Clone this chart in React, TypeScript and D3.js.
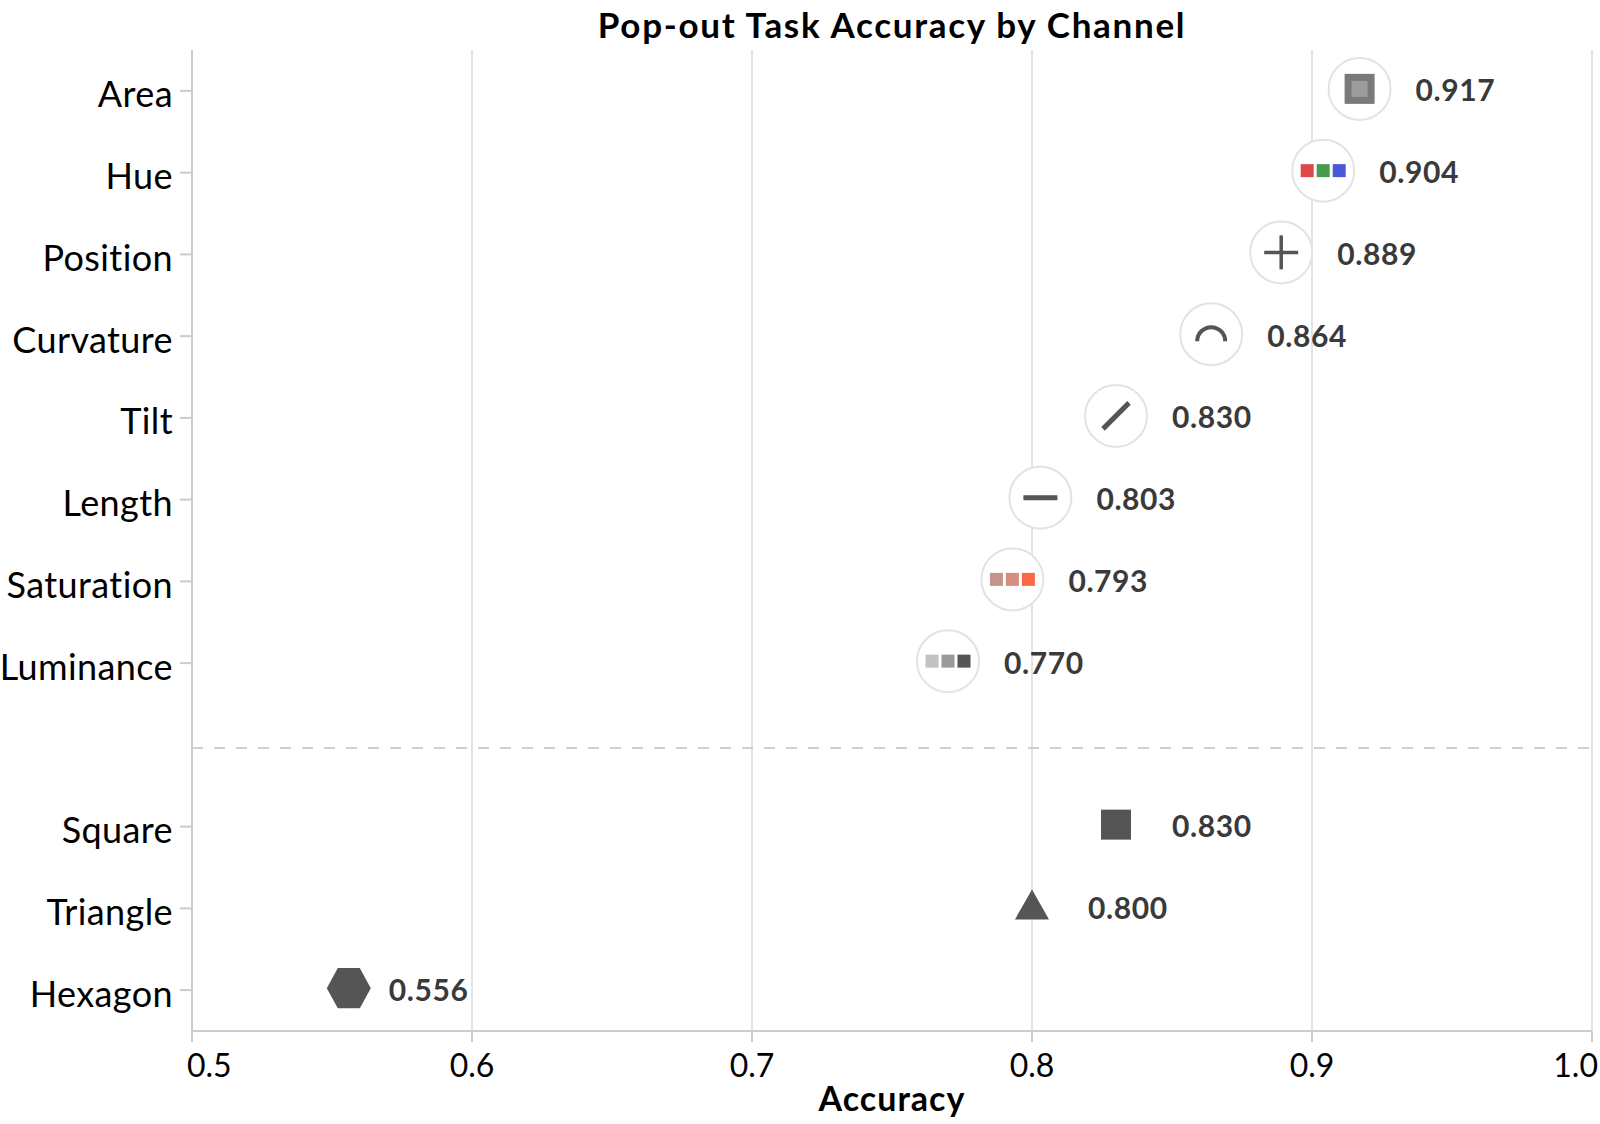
import * as d3 from "d3";

const channels = ["Area", "Hue", "Position", "Curvature", "Tilt", "Length", "Saturation", "Luminance"];
const channelAccuracy = [0.917, 0.904, 0.889, 0.864, 0.83, 0.803, 0.793, 0.77];
const shapes = ["Square", "Triangle", "Hexagon"];
const shapeAccuracy = [0.83, 0.8, 0.556];
const xTicks = [0.5, 0.6, 0.7, 0.8, 0.9, 1.0];
const hueSwatches = ["#e04848", "#4a9a4c", "#4858d8"];
const saturationSwatches = ["#c4938c", "#d68e7e", "#fb6846"];
const luminanceSwatches = ["#c2c2c2", "#9a9a9a", "#555555"];

const GAP = "__gap";
const FONT = "Lato, 'Open Sans', sans-serif";
const INK = "#555";

const width = 1600;
const height = 1124;
const margin = { top: 50, right: 8, bottom: 93, left: 192 };

const x = d3.scaleLinear().domain([0.5, 1]).range([margin.left, width - margin.right]);
const y = d3
  .scaleBand<string>()
  .domain([...channels, GAP, ...shapes])
  .range([margin.top, height - margin.bottom]);
const yc = (k: string) => (y(k) as number) + y.bandwidth() / 2;

// three little squares used by hue / saturation / luminance
const swatches = (colors: string[]) =>
  colors.map((c, i) => (
    <rect key={i} x={(i - 1) * 16 - 6.5} y={-6.5} width={13} height={13} fill={c} />
  ));

function channelGlyph(name: string) {
  switch (name) {
    case "Area":
      return (
        <g>
          <rect x={-15} y={-15} width={30} height={30} fill="#7a7a7a" />
          <rect x={-8} y={-8} width={16} height={16} fill="#9c9c9c" />
        </g>
      );
    case "Hue":
      return <g>{swatches(hueSwatches)}</g>;
    case "Position":
      return (
        <g stroke={INK} strokeWidth={3.5}>
          <line x1={-17} x2={17} y1={0} y2={0} />
          <line x1={0} x2={0} y1={-17} y2={17} />
        </g>
      );
    case "Curvature":
      return (
        <path
          d={d3.arc()({ innerRadius: 12, outerRadius: 16, startAngle: -Math.PI / 2, endAngle: Math.PI / 2 }) as string}
          transform="translate(0,7)"
          fill={INK}
        />
      );
    case "Tilt":
      return <line x1={-13} y1={13} x2={13} y2={-13} stroke={INK} strokeWidth={5} />;
    case "Length":
      return <line x1={-17} y1={0} x2={17} y2={0} stroke={INK} strokeWidth={5} />;
    case "Saturation":
      return <g>{swatches(saturationSwatches)}</g>;
    case "Luminance":
      return <g>{swatches(luminanceSwatches)}</g>;
  }
  return null;
}

function shapeGlyph(name: string) {
  if (name === "Square") return <rect x={-15} y={-15} width={30} height={30} fill={INK} />;
  if (name === "Triangle") {
    const tri = d3.line()([[0, -17], [17, 13], [-17, 13]]) + "Z";
    return <path d={tri} fill={INK} />;
  }
  const hex = d3.range(6).map((i) => {
    const a = (Math.PI / 3) * i;
    return [22 * Math.cos(a), 20 * Math.sin(a) * 1.155] as [number, number];
  });
  return <path d={d3.line()(hex) + "Z"} fill={INK} />;
}

export default function App() {
  const plotTop = margin.top;
  const plotBottom = height - margin.bottom;
  return (
    <svg
      width={width}
      height={height}
      style={{ position: "absolute", left: 0, top: 0, background: "#fff" }}
      fontFamily={FONT}
    >
      {/* title */}
      <text
        x={(x(0.5) + x(1)) / 2}
        y={38}
        textAnchor="middle"
        fontSize={35}
        fontWeight={700}
        letterSpacing={1.7}
      >
        Pop-out Task Accuracy by Channel
      </text>

      {/* grid */}
      {xTicks.map((t) => (
        <line key={t} x1={x(t)} x2={x(t)} y1={plotTop} y2={plotBottom} stroke="#e3e3e3" strokeWidth={2} />
      ))}

      {/* separator */}
      <line
        x1={x(0.5)}
        x2={x(1)}
        y1={yc(GAP) + 3}
        y2={yc(GAP) + 3}
        stroke="#cfcfcf"
        strokeWidth={2}
        strokeDasharray="11,11"
      />

      {/* axes */}
      <line x1={x(0.5)} x2={x(0.5)} y1={plotTop} y2={plotBottom} stroke="#cccccc" strokeWidth={2} />
      <line x1={x(0.5)} x2={x(1)} y1={plotBottom} y2={plotBottom} stroke="#cccccc" strokeWidth={2} />
      {xTicks.map((t, i) => (
        <g key={t}>
          <line x1={x(t)} x2={x(t)} y1={plotBottom} y2={plotBottom + 11} stroke="#cccccc" strokeWidth={2} />
          <text
            x={i === 0 ? x(t) - 5 : i === xTicks.length - 1 ? x(t) + 6 : x(t)}
            y={plotBottom + 46}
            textAnchor={i === 0 ? "start" : i === xTicks.length - 1 ? "end" : "middle"}
            fontSize={32}
          >
            {t.toFixed(1)}
          </text>
        </g>
      ))}
      <text
        x={(x(0.5) + x(1)) / 2}
        y={1111}
        textAnchor="middle"
        fontSize={34}
        fontWeight={700}
        letterSpacing={1}
      >
        Accuracy
      </text>

      {[...channels, ...shapes].map((c) => (
        <g key={c}>
          <line x1={x(0.5) - 12} x2={x(0.5)} y1={yc(c)} y2={yc(c)} stroke="#cccccc" strokeWidth={2} />
          <text
            x={x(0.5) - 19}
            y={yc(c) + 4}
            dy="0.35em"
            textAnchor="end"
            fontSize={36}
            letterSpacing={0.4}
          >
            {c}
          </text>
        </g>
      ))}

      {/* channel marks */}
      {channels.map((c, i) => {
        const cx = x(channelAccuracy[i]);
        const cy = yc(c) - 2;
        return (
          <g key={c}>
            <g transform={`translate(${cx},${cy})`}>
              <circle r={31} fill="#fff" stroke="#e3e3e3" strokeWidth={2} />
              {channelGlyph(c)}
            </g>
            <text
              x={cx + 56}
              y={yc(c)}
              dy="0.35em"
              fontSize={30}
              fontWeight={700}
              letterSpacing={0.6}
              fill="#3a3a3a"
            >
              {channelAccuracy[i].toFixed(3)}
            </text>
          </g>
        );
      })}

      {/* shape marks */}
      {shapes.map((s, i) => {
        const cx = x(shapeAccuracy[i]);
        const cy = yc(s) - 2;
        return (
          <g key={s}>
            <g transform={`translate(${cx},${cy})`}>{shapeGlyph(s)}</g>
            <text
              x={cx + (s === "Hexagon" ? 40 : 56)}
              y={yc(s)}
              dy="0.35em"
              fontSize={30}
              fontWeight={700}
              letterSpacing={0.6}
              fill="#3a3a3a"
            >
              {shapeAccuracy[i].toFixed(3)}
            </text>
          </g>
        );
      })}
    </svg>
  );
}
